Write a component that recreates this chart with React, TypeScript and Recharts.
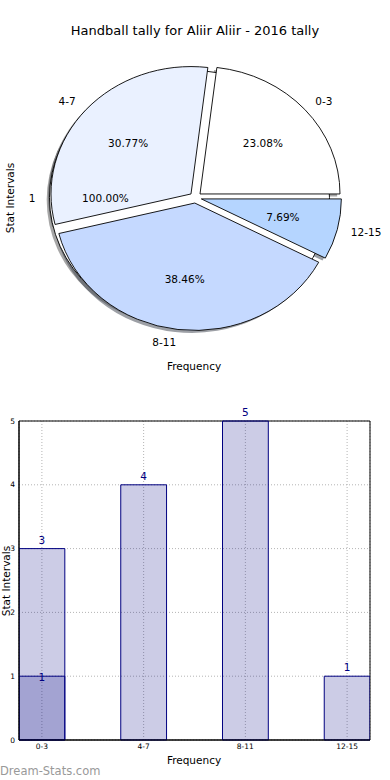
import {
  PieChart,
  Pie,
  BarChart,
  Bar,
  XAxis,
  YAxis,
  CartesianGrid,
  LabelList,
  ReferenceArea,
} from 'recharts';

const FONT = '"DejaVu Sans", Verdana, sans-serif';

// Pie: share of the tally per stat interval
const pieLabels = ['0-3', '4-7', '8-11', '12-15'];
const pieValues = [3, 4, 5, 1];
const pieColors = ['#ffffff', '#eaf1ff', '#c5d9ff', '#b5d5ff'];

// the single full "1" slice that sits behind the others
const basePieLabels = ['1'];
const basePieValues = [1];
const basePieColors = ['#ffffff'];

// Bars: tally per interval, plus the darker overlay on the first one
const barCategories = ['0-3', '4-7', '8-11', '12-15'];
const barTotals = [3, 4, 5, 1];
const barOverlay = [1, null, null, null];
const yTicks = [0, 1, 2, 3, 4, 5];
const xTicks = [0, 1, 2, 3];

const pieData = pieLabels.map((name, i) => ({ name, value: pieValues[i] }));
const basePieData = basePieLabels.map((name, i) => ({ name, value: basePieValues[i] }));
const barData = barCategories.map((name, i) => ({
  x: i,
  name,
  total: barTotals[i],
  overlay: barOverlay[i],
}));

const RAD = Math.PI / 180;
const PIE_CX = 195.5;
const PIE_CY = 197.6;
const PIE_R = 140;
const Y_RATIO = 0.91; // the pie is drawn slightly squashed, like the source
const EXPLODE = 0.043;
const SHADOW_DX = -2.8;
const SHADOW_DY = 2.5;

const X_DOMAIN = [-0.225, 3.225];
const BAR_W = 45.8;

// matplotlib-like shadow colour: 30% of the face colour
const shade = (hex: string) => {
  const n = parseInt(hex.slice(1), 16);
  const r = Math.round(((n >> 16) & 255) * 0.3);
  const g = Math.round(((n >> 8) & 255) * 0.3);
  const b = Math.round((n & 255) * 0.3);
  return `rgb(${r},${g},${b})`;
};

const wedgePath = (cx: number, cy: number, rx: number, ry: number, a0: number, a1: number) => {
  if (Math.abs(a1 - a0) >= 359.99) {
    return `M${cx + rx},${cy} A${rx},${ry} 0 1 0 ${cx - rx},${cy} A${rx},${ry} 0 1 0 ${cx + rx},${cy} Z`;
  }
  const x0 = cx + rx * Math.cos(a0 * RAD);
  const y0 = cy - ry * Math.sin(a0 * RAD);
  const x1 = cx + rx * Math.cos(a1 * RAD);
  const y1 = cy - ry * Math.sin(a1 * RAD);
  const large = Math.abs(a1 - a0) > 180 ? 1 : 0;
  return `M${cx},${cy} L${x0},${y0} A${rx},${ry} 0 ${large} 0 ${x1},${y1} Z`;
};

type PieLayer = 'shadow' | 'wedge' | 'text';

// Recharts sectors are hidden; each slice is drawn here, exploded and squashed
const sliceLayer = (layer: PieLayer, colors: string[], names: string[]) => (props: any) => {
  const { cx, cy, outerRadius, startAngle, endAngle, midAngle, percent, index } = props;
  const rx = outerRadius;
  const ry = outerRadius * Y_RATIO;
  const cos = Math.cos(midAngle * RAD);
  const sin = Math.sin(midAngle * RAD);
  const ox = cx + rx * EXPLODE * cos;
  const oy = cy - ry * EXPLODE * sin;

  if (layer === 'shadow') {
    return (
      <path
        d={wedgePath(ox + SHADOW_DX, oy + SHADOW_DY, rx, ry, startAngle, endAngle)}
        fill={shade(colors[index])}
        fillOpacity={0.5}
        stroke="none"
      />
    );
  }
  if (layer === 'wedge') {
    return (
      <path
        d={wedgePath(ox, oy, rx, ry, startAngle, endAngle)}
        fill={colors[index]}
        stroke="#000"
        strokeWidth={0.9}
      />
    );
  }
  return (
    <g>
      <text
        x={ox + 1.1 * rx * cos}
        y={oy - 1.1 * ry * sin}
        textAnchor={cos > 0 ? 'start' : 'end'}
        dominantBaseline="central"
        fontSize={10.5}
        fontFamily={FONT}
        fill="#000"
      >
        {names[index]}
      </text>
      <text
        x={ox + 0.6 * rx * cos}
        y={oy - 0.6 * ry * sin}
        textAnchor="middle"
        dominantBaseline="central"
        fontSize={10.5}
        fontFamily={FONT}
        fill="#000"
      >
        {(percent * 100).toFixed(2)}%
      </text>
    </g>
  );
};

const pieProps = {
  cx: PIE_CX,
  cy: PIE_CY,
  outerRadius: PIE_R,
  startAngle: 0,
  endAngle: 360,
  dataKey: 'value',
  fill: 'none',
  stroke: 'none',
  labelLine: false,
  isAnimationActive: false,
};

const App = () => {
  return (
    <div
      style={{
        position: 'absolute',
        top: 0,
        left: 0,
        width: 390,
        height: 780,
        background: '#fff',
        fontFamily: FONT,
      }}
    >
      {/* Pie */}
      <div style={{ position: 'absolute', top: 0, left: 0 }}>
        <PieChart width={390} height={390} margin={{ top: 0, right: 0, bottom: 0, left: 0 }}>
          <Pie {...pieProps} data={basePieData} label={sliceLayer('shadow', basePieColors, basePieLabels)} />
          <Pie {...pieProps} data={pieData} label={sliceLayer('shadow', pieColors, pieLabels)} />
          <Pie {...pieProps} data={basePieData} label={sliceLayer('wedge', basePieColors, basePieLabels)} />
          <Pie {...pieProps} data={pieData} label={sliceLayer('wedge', pieColors, pieLabels)} />
          <Pie {...pieProps} data={pieData} label={sliceLayer('text', pieColors, pieLabels)} />
          <Pie {...pieProps} data={basePieData} label={sliceLayer('text', basePieColors, basePieLabels)} />
        </PieChart>
      </div>

      {/* Bars */}
      <div style={{ position: 'absolute', top: 400, left: 0 }}>
        <BarChart
          width={390}
          height={380}
          data={barData}
          margin={{ top: 21, right: 20, bottom: 0, left: 9 }}
          barSize={BAR_W}
          barGap={-BAR_W}
        >
          <CartesianGrid stroke="#b4b4b4" strokeDasharray="1 2" />
          <XAxis
            dataKey="x"
            type="number"
            domain={X_DOMAIN}
            ticks={xTicks}
            interval={0}
            allowDataOverflow
            tickFormatter={(v) => barCategories[v]}
            height={40}
            tickLine={false}
            tickSize={0}
            tickMargin={4}
            axisLine={{ stroke: '#000' }}
            tick={{ fontSize: 7.5, fill: '#000', fontFamily: FONT }}
          />
          <YAxis
            domain={[0, 5]}
            ticks={yTicks}
            interval={0}
            width={10}
            tickLine={false}
            tickSize={0}
            tickMargin={4}
            axisLine={{ stroke: '#000' }}
            tick={{ fontSize: 7.5, fill: '#000', fontFamily: FONT }}
          />
          <Bar
            dataKey="total"
            fill="#000080"
            fillOpacity={0.2}
            stroke="#000080"
            strokeWidth={1}
            isAnimationActive={false}
          >
            <LabelList dataKey="total" position="top" offset={5} fill="#000080" fontSize={10.5} fontFamily={FONT} />
          </Bar>
          <Bar
            dataKey="overlay"
            fill="#000080"
            fillOpacity={0.2}
            stroke="#000080"
            strokeWidth={1}
            isAnimationActive={false}
          >
            <LabelList dataKey="overlay" position="top" offset={-5} fill="#000080" fontSize={10.5} fontFamily={FONT} />
          </Bar>
          <ReferenceArea
            x1={X_DOMAIN[0]}
            x2={X_DOMAIN[1]}
            y1={0}
            y2={5}
            fill="none"
            stroke="#000"
            strokeWidth={1}
            ifOverflow="visible"
          />
        </BarChart>
      </div>

      {/* Titles and axis names */}
      <svg
        width={390}
        height={780}
        style={{ position: 'absolute', top: 0, left: 0, pointerEvents: 'none' }}
        fontFamily={FONT}
      >
        <text x={195} y={30} textAnchor="middle" dominantBaseline="central" fontSize={13} fill="#000">
          Handball tally for Aliir Aliir - 2016 tally
        </text>
        <text x={10} y={198} transform="rotate(-90 10 198)" textAnchor="middle" dominantBaseline="central" fontSize={10.5} fill="#000">
          Stat Intervals
        </text>
        <text x={194} y={366} textAnchor="middle" dominantBaseline="central" fontSize={10.5} fill="#000">
          Frequency
        </text>
        <text x={6} y={581} transform="rotate(-90 6 581)" textAnchor="middle" dominantBaseline="central" fontSize={10.5} fill="#000">
          Stat Intervals
        </text>
        <text x={194} y={760} textAnchor="middle" dominantBaseline="central" fontSize={10.5} fill="#000">
          Frequency
        </text>
        <text x={0} y={771} dominantBaseline="central" fontSize={11.5} fill="#999">
          Dream-Stats.com
        </text>
      </svg>
    </div>
  );
};

export default App;
